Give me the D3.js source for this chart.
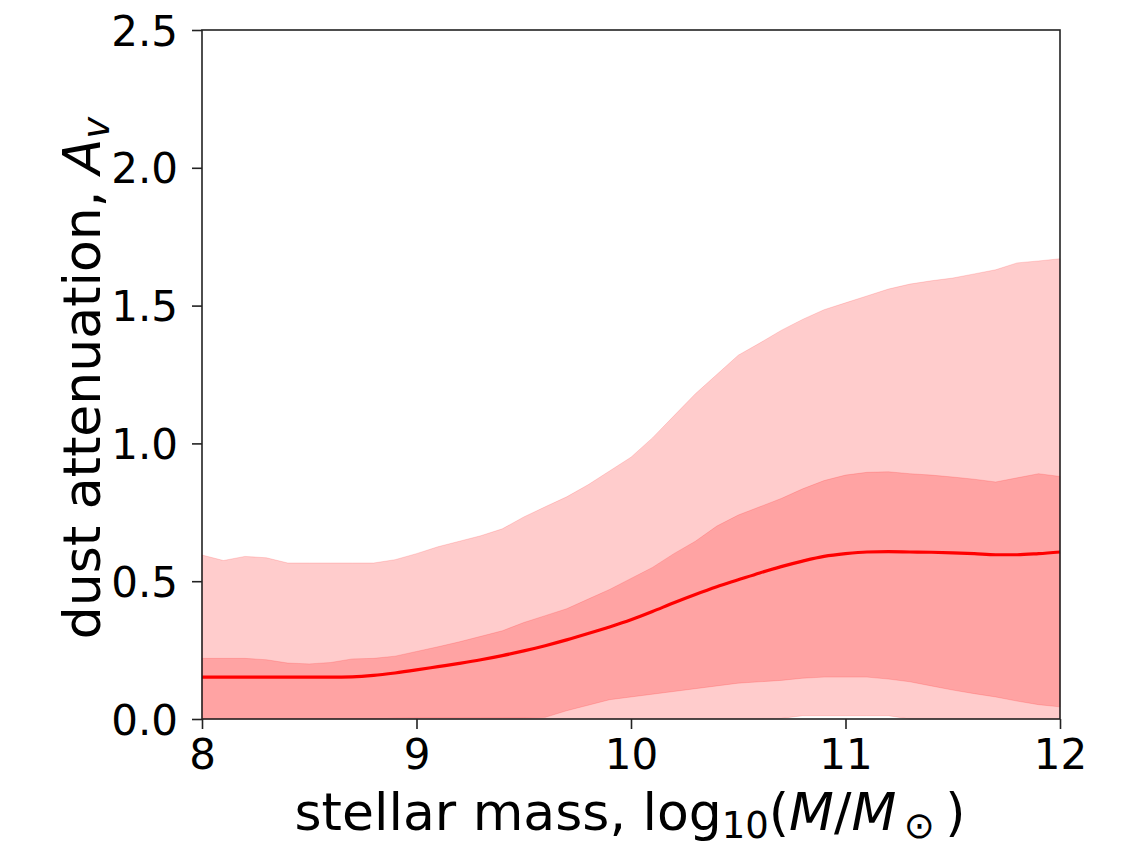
<!DOCTYPE html>
<html><head><meta charset="utf-8">
<script src="https://cdn.jsdelivr.net/npm/d3@7"></script>
<style>body{margin:0;background:#fff}svg{display:block}text{font-family:"DejaVu Sans",sans-serif;fill:#000}</style>
</head><body><svg id="c" width="1137" height="853"></svg>
<script>
const mass = [8.0,8.1,8.2,8.3,8.4,8.5,8.6,8.7,8.8,8.9,9.0,9.1,9.2,9.3,9.4,9.5,9.6,9.7,9.8,9.9,10.0,10.1,10.2,10.3,10.4,10.5,10.6,10.7,10.8,10.9,11.0,11.1,11.2,11.3,11.4,11.5,11.6,11.7,11.8,11.9,12.0];
const outerUpper = [0.595,0.575,0.59,0.585,0.566,0.566,0.566,0.566,0.566,0.578,0.60,0.625,0.645,0.665,0.69,0.733,0.77,0.806,0.85,0.90,0.95,1.02,1.10,1.18,1.25,1.32,1.364,1.41,1.45,1.485,1.51,1.535,1.56,1.578,1.59,1.60,1.615,1.63,1.655,1.662,1.67];
const innerUpper = [0.22,0.22,0.22,0.215,0.203,0.20,0.205,0.218,0.22,0.228,0.245,0.262,0.28,0.30,0.32,0.35,0.375,0.40,0.435,0.47,0.51,0.55,0.60,0.645,0.70,0.74,0.77,0.80,0.835,0.865,0.885,0.895,0.897,0.89,0.885,0.878,0.87,0.86,0.875,0.89,0.88];
const median = [0.152,0.152,0.152,0.152,0.152,0.152,0.152,0.153,0.158,0.167,0.178,0.19,0.202,0.215,0.23,0.247,0.266,0.287,0.31,0.334,0.36,0.39,0.422,0.452,0.48,0.505,0.53,0.553,0.573,0.59,0.60,0.606,0.607,0.606,0.605,0.603,0.60,0.596,0.596,0.60,0.606];
const innerLower = [0,0,0,0,0,0,0,0,0,0.003,0.004,0.004,0.004,0.004,0.004,0.004,0.006,0.03,0.05,0.07,0.08,0.09,0.10,0.11,0.12,0.13,0.135,0.14,0.148,0.152,0.152,0.152,0.145,0.135,0.12,0.105,0.092,0.08,0.065,0.052,0.044];
const outerLower = [0,0,0,0,0,0,0,0,0,0,0,0,0,0,0,0,0,0,0,0,0,0,0,0,0,0,0,0.002,0.012,0.012,0.012,0.012,0.012,0,0,0,0,0,0,0,0];
const xTicks = [8,9,10,11,12];
const yTicks = [0.0,0.5,1.0,1.5,2.0,2.5];

const svg = d3.select("#c");
const L=202, R=1060, T=30, B=719;
const x = d3.scaleLinear().domain([8,12]).range([L,R]);
const y = d3.scaleLinear().domain([0,2.5]).range([B,T]);
const rows = mass.map((m,i)=>({m, ou:outerUpper[i], iu:innerUpper[i], md:median[i], il:innerLower[i], ol:outerLower[i]}));

const band = (lo,hi)=>d3.area().x(d=>x(d.m)).y0(d=>y(d[lo])).y1(d=>y(d[hi]));
svg.append("path").datum(rows).attr("d",band("ol","ou"))
  .attr("fill","#ff0000").attr("fill-opacity",0.2).attr("stroke","#ff0000").attr("stroke-opacity",0.15).attr("stroke-width",1);
svg.append("path").datum(rows).attr("d",band("il","iu"))
  .attr("fill","#ff0000").attr("fill-opacity",0.2).attr("stroke","#ff0000").attr("stroke-opacity",0.15).attr("stroke-width",1);
svg.append("path").datum(rows).attr("d",d3.line().x(d=>x(d.m)).y(d=>y(d.md)).curve(d3.curveMonotoneX))
  .attr("fill","none").attr("stroke","#ff0000").attr("stroke-width",3.2);

// frame
svg.append("rect").attr("x",L).attr("y",T).attr("width",R-L).attr("height",B-T)
  .attr("fill","none").attr("stroke","#222").attr("stroke-width",1.6);

const xa = svg.append("g").attr("transform",`translate(0,${B})`)
  .call(d3.axisBottom(x).tickValues(xTicks).tickFormat(d3.format("d")).tickSize(10).tickPadding(10));
const ya = svg.append("g").attr("transform",`translate(${L},0)`)
  .call(d3.axisLeft(y).tickValues(yTicks).tickFormat(d3.format(".1f")).tickSize(10).tickPadding(14));
[xa,ya].forEach(a=>{
  a.select(".domain").remove();
  a.selectAll(".tick line").attr("stroke","#222").attr("stroke-width",1.6);
  a.selectAll(".tick text").style("font-size","42px").style("font-family","DejaVu Sans").attr("fill","#000");
});
xa.selectAll(".tick text").attr("dy","0.72em");
ya.selectAll(".tick text").attr("dy","0.36em");

// x label
const xl = svg.append("text").attr("x",630).attr("y",830).attr("text-anchor","middle").style("font-size","52px");
xl.append("tspan").text("stellar mass, log");
xl.append("tspan").text("10").style("font-size","37px").attr("dy",8);
xl.append("tspan").text("(").attr("dy",-8);
xl.append("tspan").text("M").style("font-style","italic");
xl.append("tspan").text("/");
xl.append("tspan").text("M").style("font-style","italic");
xl.append("tspan").text("\u2009\u2299").style("font-size","37px").attr("dy",8);
xl.append("tspan").text("\u2009)").attr("dy",-8);

// y label
const yl = svg.append("text").attr("transform","translate(100,378) rotate(-90)").attr("text-anchor","middle").style("font-size","52px");
yl.append("tspan").text("dust attenuation, ");
yl.append("tspan").text("A").style("font-style","italic");
yl.append("tspan").text("v").style("font-style","italic").style("font-size","37px").attr("dy",9);
</script></body></html>
